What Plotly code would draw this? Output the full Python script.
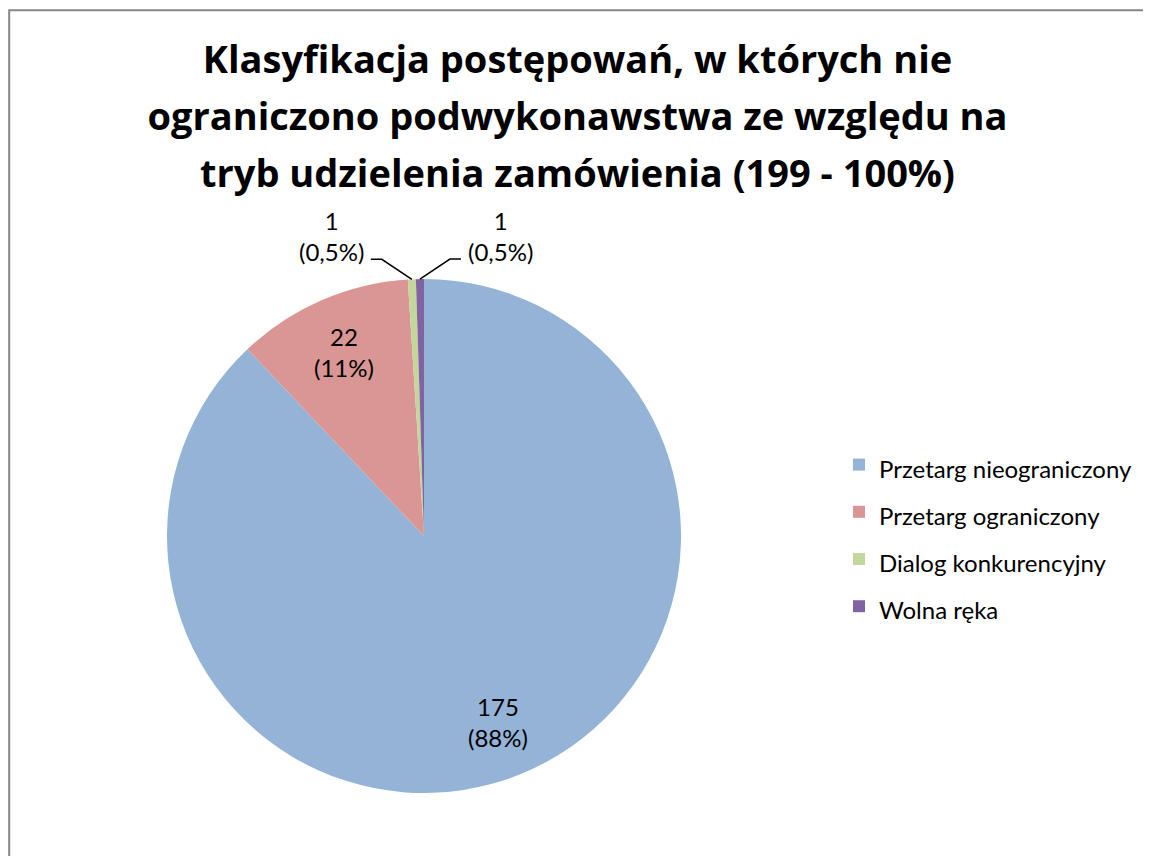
import math
import plotly.graph_objects as go

# figure size (page has an 8px body margin)
W, H = 1135, 848
OFF = 8

title_lines = [
    "Klasyfikacja postępowań, w których nie",
    "ograniczono podwykonawstwa ze względu na",
    "tryb udzielenia zamówienia (199 - 100%)",
]
categories = ["Przetarg nieograniczony", "Przetarg ograniczony",
              "Dialog konkurencyjny", "Wolna ręka"]
values = [175, 22, 1, 1]
percent_text = ["88%", "11%", "0,5%", "0,5%"]
colors = ["#95B3D7", "#D99694", "#C3D69B", "#8064A2"]

FONT = "Lato"
TFONT = "Open Sans"
LBL = 24

# pie geometry (page pixels)
cx, cy, R = 424, 536, 257


def px_to_paper(x, y):
    return (x - OFF) / W, 1 - (y - OFF) / H


legend_labels = [f"<span style='font-size:{LBL}px'>{c}</span>" for c in categories]

fig = go.Figure()
fig.add_trace(go.Pie(
    labels=legend_labels,
    values=values,
    sort=False,
    direction="clockwise",
    rotation=0,
    marker=dict(colors=colors, line=dict(width=0)),
    textinfo="none",
    hoverinfo="label+value+percent",
    domain=dict(x=[(cx - R - OFF) / W, (cx + R - OFF) / W],
                y=[1 - (cy + R - OFF) / H, 1 - (cy - R - OFF) / H]),
))

# data labels computed from slice angles
total = sum(values)
annotations = []
shapes = []
cum = 0
small_idx = 0
for i, v in enumerate(values):
    a0 = cum / total * 360
    cum += v
    a1 = cum / total * 360
    mid = math.radians((a0 + a1) / 2)
    txt = f"{v}<br>({percent_text[i]})"
    if v / total > 0.05:
        f = 0.78
        px = cx + f * R * math.sin(mid)
        py = cy - f * R * math.cos(mid)
        x, y = px_to_paper(px, py)
        annotations.append(dict(x=x, y=y, xref="paper", yref="paper", text=txt,
                                showarrow=False, font=dict(family=FONT, size=LBL, color="#000"),
                                xanchor="center", yanchor="middle"))
    else:
        ex = cx + R * math.sin(mid)
        ey = cy - R * math.cos(mid)
        side = -1 if small_idx % 2 == 0 else 1
        small_idx += 1
        elx, ely = ex + side * 30, ey - 20
        endx = elx + side * 11
        pts = [px_to_paper(ex, ey), px_to_paper(elx, ely), px_to_paper(endx, ely)]
        path = "M {} {} L {} {} L {} {}".format(*[c for p in pts for c in p])
        shapes.append(dict(type="path", path=path, xref="paper", yref="paper",
                           line=dict(color="#000", width=1.5)))
        tx, ty = px_to_paper(endx + side * 5, ely - 23)
        annotations.append(dict(x=tx, y=ty, xref="paper", yref="paper", text=txt,
                                showarrow=False, font=dict(family=FONT, size=LBL, color="#000"),
                                xanchor="right" if side < 0 else "left", yanchor="middle",
                                align="center"))

# chart-area border (top and left edges are inside the picture)
bx, by = 1.2 / W, 1 - 2.2 / H
shapes.append(dict(type="path", xref="paper", yref="paper",
                   path=f"M {bx} -0.05 L {bx} {by} L 1.05 {by}",
                   line=dict(color="#868686", width=2), layer="below"))

title_text = "<br>".join(f"<span style='font-size:38px'>{t}</span>" for t in title_lines)

fig.update_layout(
    width=W, height=H,
    margin=dict(l=0, r=0, t=0, b=0),
    paper_bgcolor="white",
    plot_bgcolor="white",
    font=dict(family=FONT, color="#000"),
    title=dict(text=title_text, x=(577.5 - OFF) / W, xanchor="center", xref="paper",
               y=1 - (73 - OFF) / H, yanchor="top", yref="container",
               font=dict(family=TFONT, size=44, color="#000", weight="bold")),
    showlegend=True,
    legend=dict(x=(839 - OFF) / W, y=1 - (436 - OFF) / H, xanchor="left", yanchor="top",
                font=dict(family=FONT, size=34, color="#000"),
                bgcolor="rgba(0,0,0,0)", traceorder="normal"),
    annotations=annotations,
    shapes=shapes,
)

fig.write_html("out.html")
